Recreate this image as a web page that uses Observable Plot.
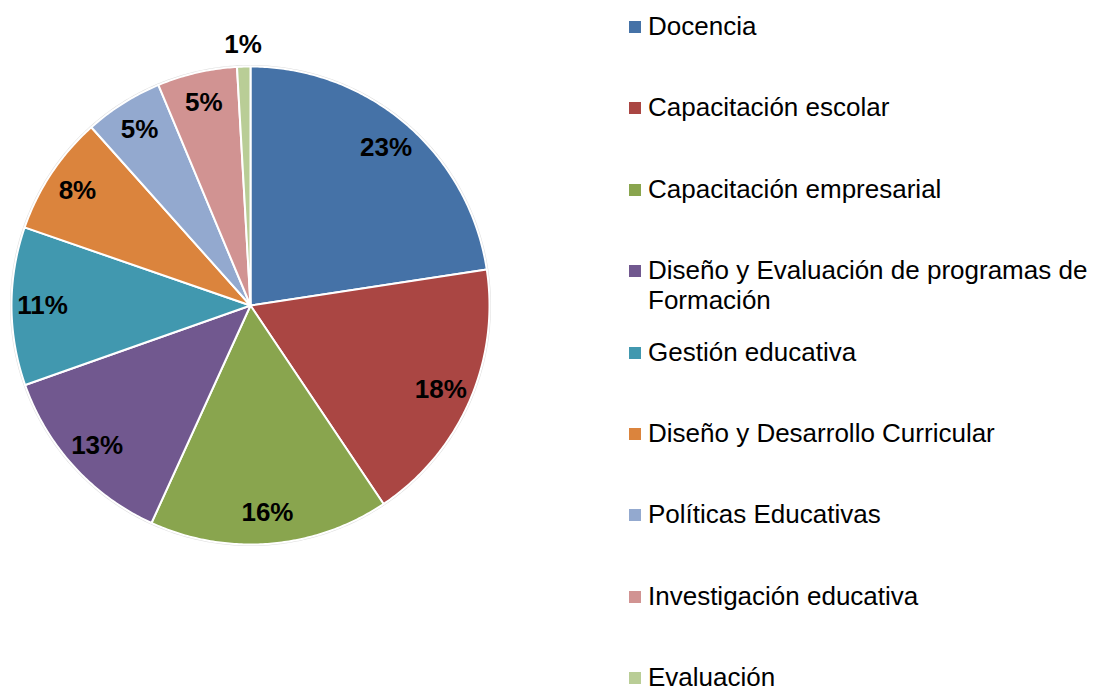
<!DOCTYPE html>
<html>
<head>
<meta charset="utf-8">
<script src="https://cdn.jsdelivr.net/npm/d3@7"></script>
<script src="https://cdn.jsdelivr.net/npm/@observablehq/plot@0.6"></script>
<style>
  html, body { margin: 0; padding: 0; background: #fff; }
  #wrap { position: relative; width: 1100px; height: 687px; overflow: hidden; font-family: Arial, "Liberation Sans", sans-serif; }
  #chart { position: absolute; left: 0; top: 0; }
  .item { position: absolute; left: 629px; font-size: 26px; color: #000; line-height: 30px; width: 470px; }
  .sw { position: absolute; left: 0; top: 10px; width: 12px; height: 12px; }
  .lab { margin-left: 19px; display: block; }
</style>
</head>
<body>
<div id="wrap"><div id="chart"></div><div id="legend"></div></div>
<script>
const categories = [
  "Docencia",
  "Capacitación escolar",
  "Capacitación empresarial",
  "Diseño y Evaluación de programas de Formación",
  "Gestión educativa",
  "Diseño y Desarrollo Curricular",
  "Políticas Educativas",
  "Investigación educativa",
  "Evaluación"
];
const values = [22.6, 18.0, 16.2, 12.8, 10.7, 8.1, 5.3, 5.4, 0.9];
const colors = ["#4572A7", "#AA4643", "#89A54E", "#71588F", "#4198AF", "#DB843D", "#93A9CF", "#D19392", "#B9CD96"];

const total = d3.sum(values);
const pie = d3.pie().sort(null).value(d => d)(values);

// slice outlines in unit-circle coordinates (angle 0 = top, clockwise)
const slicePts = [];
pie.forEach((p, i) => {
  slicePts.push({name: categories[i], x: 0, y: 0});
  const n = Math.max(4, Math.ceil((p.endAngle - p.startAngle) / 0.01));
  for (let k = 0; k <= n; k++) {
    const a = p.startAngle + (p.endAngle - p.startAngle) * k / n;
    slicePts.push({name: categories[i], x: Math.sin(a), y: Math.cos(a)});
  }
});

const labels = pie.map((p, i) => {
  const mid = (p.startAngle + p.endAngle) / 2;
  const pct = Math.round(values[i] / total * 100);
  const r = pct <= 1 ? 1.09 : 0.87;
  return {name: categories[i], text: pct + "%", x: r * Math.sin(mid), y: r * Math.cos(mid)};
});

const ring = d3.range(0, 2 * Math.PI + 0.01, 0.01).map(a => ({x: Math.sin(a), y: Math.cos(a)}));

const chart = Plot.plot({
  width: 620,
  height: 687,
  margin: 0,
  x: {domain: [-1, 1], range: [11, 489], axis: null},
  y: {domain: [-1, 1], range: [544, 66], axis: null},
  color: {domain: categories, range: colors},
  style: {background: "transparent"},
  marks: [
    Plot.line(ring, {x: "x", y: "y", stroke: "#c8c8c8", strokeWidth: 3, strokeOpacity: 0.6}),
    Plot.line(slicePts, {x: "x", y: "y", z: "name", fill: "name", stroke: "white", strokeWidth: 2, strokeLinejoin: "round", curve: "linear-closed"}),
    Plot.text(labels, {x: "x", y: "y", text: "text", fill: "black", fontSize: 26, fontWeight: "bold", fontFamily: "Arial, 'Liberation Sans', sans-serif"})
  ]
});
document.getElementById("chart").appendChild(chart);

const legend = document.getElementById("legend");
categories.forEach((c, i) => {
  const div = document.createElement("div");
  div.className = "item";
  div.style.top = (11 + i * 81.4) + "px";
  const sw = document.createElement("span");
  sw.className = "sw";
  sw.style.background = colors[i];
  const lab = document.createElement("span");
  lab.className = "lab";
  lab.textContent = c;
  div.appendChild(sw);
  div.appendChild(lab);
  legend.appendChild(div);
});
</script>
</body>
</html>
